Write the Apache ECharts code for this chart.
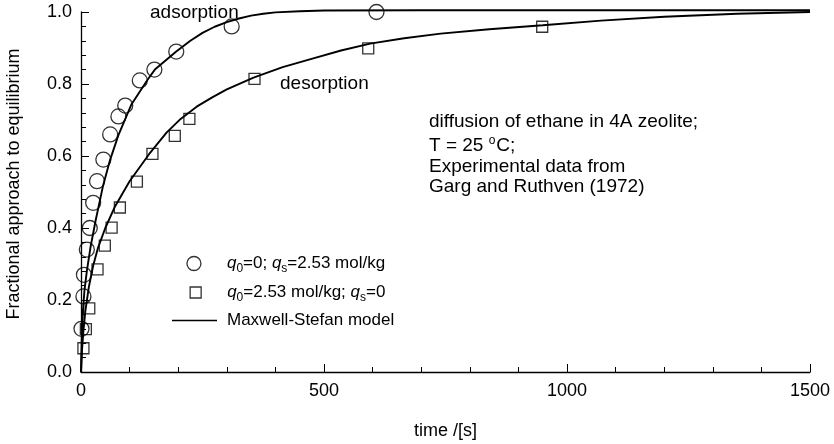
<!DOCTYPE html>
<html>
<head>
<meta charset="utf-8">
<script src="https://cdn.jsdelivr.net/npm/echarts@6/dist/echarts.min.js"></script>
<style>
  html, body { margin: 0; padding: 0; background: #fff; }
  #chart { width: 834px; height: 444px; }
</style>
</head>
<body>
<div id="chart"></div>
<script>
// experimental points [time s, fraction]
const adsorptionData = [
  [1, 0.12], [5, 0.21], [6, 0.27], [12, 0.34], [18, 0.40], [25, 0.47],
  [33, 0.53], [46, 0.59], [60, 0.66], [77, 0.71], [91, 0.74], [121, 0.81],
  [151, 0.84], [196, 0.89], [310, 0.96], [608, 1.0]
];
const desorptionData = [
  [5, 0.066], [10, 0.119], [17, 0.177], [34, 0.285], [49, 0.351], [63, 0.401],
  [80, 0.457], [115, 0.529], [147, 0.606], [193, 0.656], [223, 0.703],
  [357, 0.814], [591, 0.899], [949, 0.959]
];

// Maxwell-Stefan model curves
const adsorptionModel = [
  [0, 0], [1, 0.06], [2, 0.11], [4, 0.17], [7, 0.225], [12, 0.28], [20, 0.35],
  [30, 0.42], [45, 0.515], [60, 0.59], [77, 0.658], [104, 0.744], [138, 0.814],
  [152, 0.84], [196, 0.89], [225, 0.92], [250, 0.942], [275, 0.959], [300, 0.972],
  [325, 0.982], [350, 0.99], [375, 0.995], [400, 0.999], [450, 1.002],
  [500, 1.004], [700, 1.005], [1000, 1.005], [1500, 1.005]
];
const desorptionModel = [
  [0, 0], [2, 0.06], [5, 0.115], [9, 0.17], [16, 0.235], [25, 0.295], [35, 0.345],
  [50, 0.40], [70, 0.46], [100, 0.53], [140, 0.605], [176, 0.665], [205, 0.703],
  [238, 0.737], [270, 0.763], [300, 0.785], [355, 0.818], [415, 0.847], [478, 0.871],
  [535, 0.893], [595, 0.912], [665, 0.927], [740, 0.94], [840, 0.952], [950, 0.963],
  [1070, 0.976], [1200, 0.987], [1350, 0.995], [1500, 1.0]
];

const xTicks = [0, 500, 1000, 1500];
const yTicks = [0, 0.2, 0.4, 0.6, 0.8, 1.0];

const FONT = 'Liberation Sans, Arial, sans-serif';
const nameAds = 'q0=0; qs=2.53 mol/kg';
const nameDes = 'q0=2.53 mol/kg; qs=0';
const nameModel = 'Maxwell-Stefan model';

const richText = {
  g1: { width: 21 },
  g3: { width: 5 },
  i: { fontStyle: 'italic', fontSize: 17, fontFamily: FONT, color: '#000' },
  s: { fontSize: 12, fontFamily: FONT, color: '#000', padding: [10, 0, 0, 0] }
};

const legendLabel = name => {
  if (name === nameAds) return '{g1| }{i|q}{s|0}=0; {i|q}{s|s}=2.53 mol/kg';
  if (name === nameDes) return '{g1| }{i|q}{s|0}=2.53 mol/kg; {i|q}{s|s}=0';
  return '{g3| }' + name;
};

const legendText = { fontSize: 17, fontFamily: FONT, color: '#000', rich: richText };

const chart = echarts.init(document.getElementById('chart'));

const option = {
  backgroundColor: '#fff',
  animation: false,
  grid: { left: 81, right: 24, top: 12, bottom: 72, outerBoundsMode: 'none' },
  xAxis: {
    type: 'value',
    min: xTicks[0],
    max: xTicks[xTicks.length - 1],
    interval: 500,
    name: 'time /[s]',
    nameLocation: 'middle',
    nameGap: 50,
    nameTextStyle: { fontSize: 18, fontFamily: FONT, color: '#000' },
    axisLine: { lineStyle: { color: '#000', width: 1.3 } },
    axisTick: { inside: true, length: 8, lineStyle: { color: '#000', width: 1 } },
    minorTick: { show: true, splitNumber: 5, length: 5, lineStyle: { color: '#000', width: 1 } },
    axisLabel: { margin: 10, fontSize: 18, fontFamily: FONT, color: '#000', formatter: v => String(v) },
    splitLine: { show: false }
  },
  yAxis: {
    type: 'value',
    min: yTicks[0],
    max: yTicks[yTicks.length - 1],
    interval: 0.2,
    name: 'Fractional approach to equilibrium',
    nameLocation: 'middle',
    nameGap: 58,
    nameTextStyle: { fontSize: 18, fontFamily: FONT, color: '#000', padding: [0, 0, 0, 16] },
    axisLine: { show: true, lineStyle: { color: '#000', width: 1.3 } },
    axisTick: { show: true, inside: true, length: 8, lineStyle: { color: '#000', width: 1 } },
    minorTick: { show: true, splitNumber: 5, length: 5, lineStyle: { color: '#000', width: 1 } },
    axisLabel: {
      margin: 9, fontSize: 18, fontFamily: FONT, color: '#000',
      formatter: v => v.toFixed(1)
    },
    splitLine: { show: false }
  },
  legend: [
    {
      left: 186.3, top: 255, padding: 0, orient: 'vertical', selectedMode: false,
      itemWidth: 14, itemHeight: 14,
      data: [{ name: nameAds, icon: 'circle',
        itemStyle: { color: '#fff', borderColor: '#000', borderWidth: 1.3 } }],
      formatter: legendLabel, textStyle: legendText
    },
    {
      left: 189.5, top: 284, padding: 0, orient: 'vertical', selectedMode: false,
      itemWidth: 11, itemHeight: 11,
      data: [{ name: nameDes, icon: 'rect',
        itemStyle: { color: '#fff', borderColor: '#000', borderWidth: 1.3 } }],
      formatter: legendLabel, textStyle: legendText
    },
    {
      left: 172, top: 312, padding: 0, orient: 'vertical', selectedMode: false,
      itemWidth: 45, itemHeight: 1.6,
      data: [{ name: nameModel, icon: 'rect', itemStyle: { color: '#000', borderWidth: 0 } }],
      formatter: legendLabel, textStyle: legendText
    }
  ],
  graphic: [
    { type: 'text', x: 150, y: 13, style: { text: 'adsorption', fontSize: 19, fontFamily: FONT, fill: '#000', verticalAlign: 'middle' } },
    { type: 'text', x: 280, y: 84, style: { text: 'desorption', fontSize: 19, fontFamily: FONT, fill: '#000', verticalAlign: 'middle' } },
    { type: 'text', x: 429, y: 122, style: { text: 'diffusion of ethane in 4A zeolite;', fontSize: 19, fontFamily: FONT, fill: '#000', verticalAlign: 'middle' } },
    { type: 'text', x: 429, y: 146, style: {
        text: 'T = 25 {o|o}C;', fontSize: 19, fontFamily: FONT, fill: '#000', verticalAlign: 'middle',
        rich: { o: { fontSize: 12, fontFamily: FONT, fill: '#000', padding: [0, 1, 10, 0] } } } },
    { type: 'text', x: 429, y: 167, style: { text: 'Experimental data from', fontSize: 19, fontFamily: FONT, fill: '#000', verticalAlign: 'middle' } },
    { type: 'text', x: 429, y: 187, style: { text: 'Garg and Ruthven (1972)', fontSize: 19, fontFamily: FONT, fill: '#000', verticalAlign: 'middle' } }
  ],
  series: [
    {
      name: nameModel, type: 'line', data: adsorptionModel, showSymbol: false,
      smooth: false, clip: false,
      lineStyle: { color: '#000', width: 1.9 }, itemStyle: { color: '#000' }, z: 2
    },
    {
      name: nameModel, type: 'line', data: desorptionModel, showSymbol: false,
      smooth: false, clip: false,
      lineStyle: { color: '#000', width: 1.9 }, itemStyle: { color: '#000' }, z: 2
    },
    {
      name: nameAds, type: 'scatter', data: adsorptionData, symbol: 'circle', symbolSize: 15,
      clip: false,
      itemStyle: { color: 'rgba(255,255,255,0)', borderColor: '#000', borderWidth: 1.3 }, z: 3
    },
    {
      name: nameDes, type: 'scatter', data: desorptionData, symbol: 'rect', symbolSize: 11,
      clip: false,
      itemStyle: { color: 'rgba(255,255,255,0)', borderColor: '#000', borderWidth: 1.3 }, z: 3
    }
  ]
};

chart.setOption(option);
</script>
</body>
</html>
